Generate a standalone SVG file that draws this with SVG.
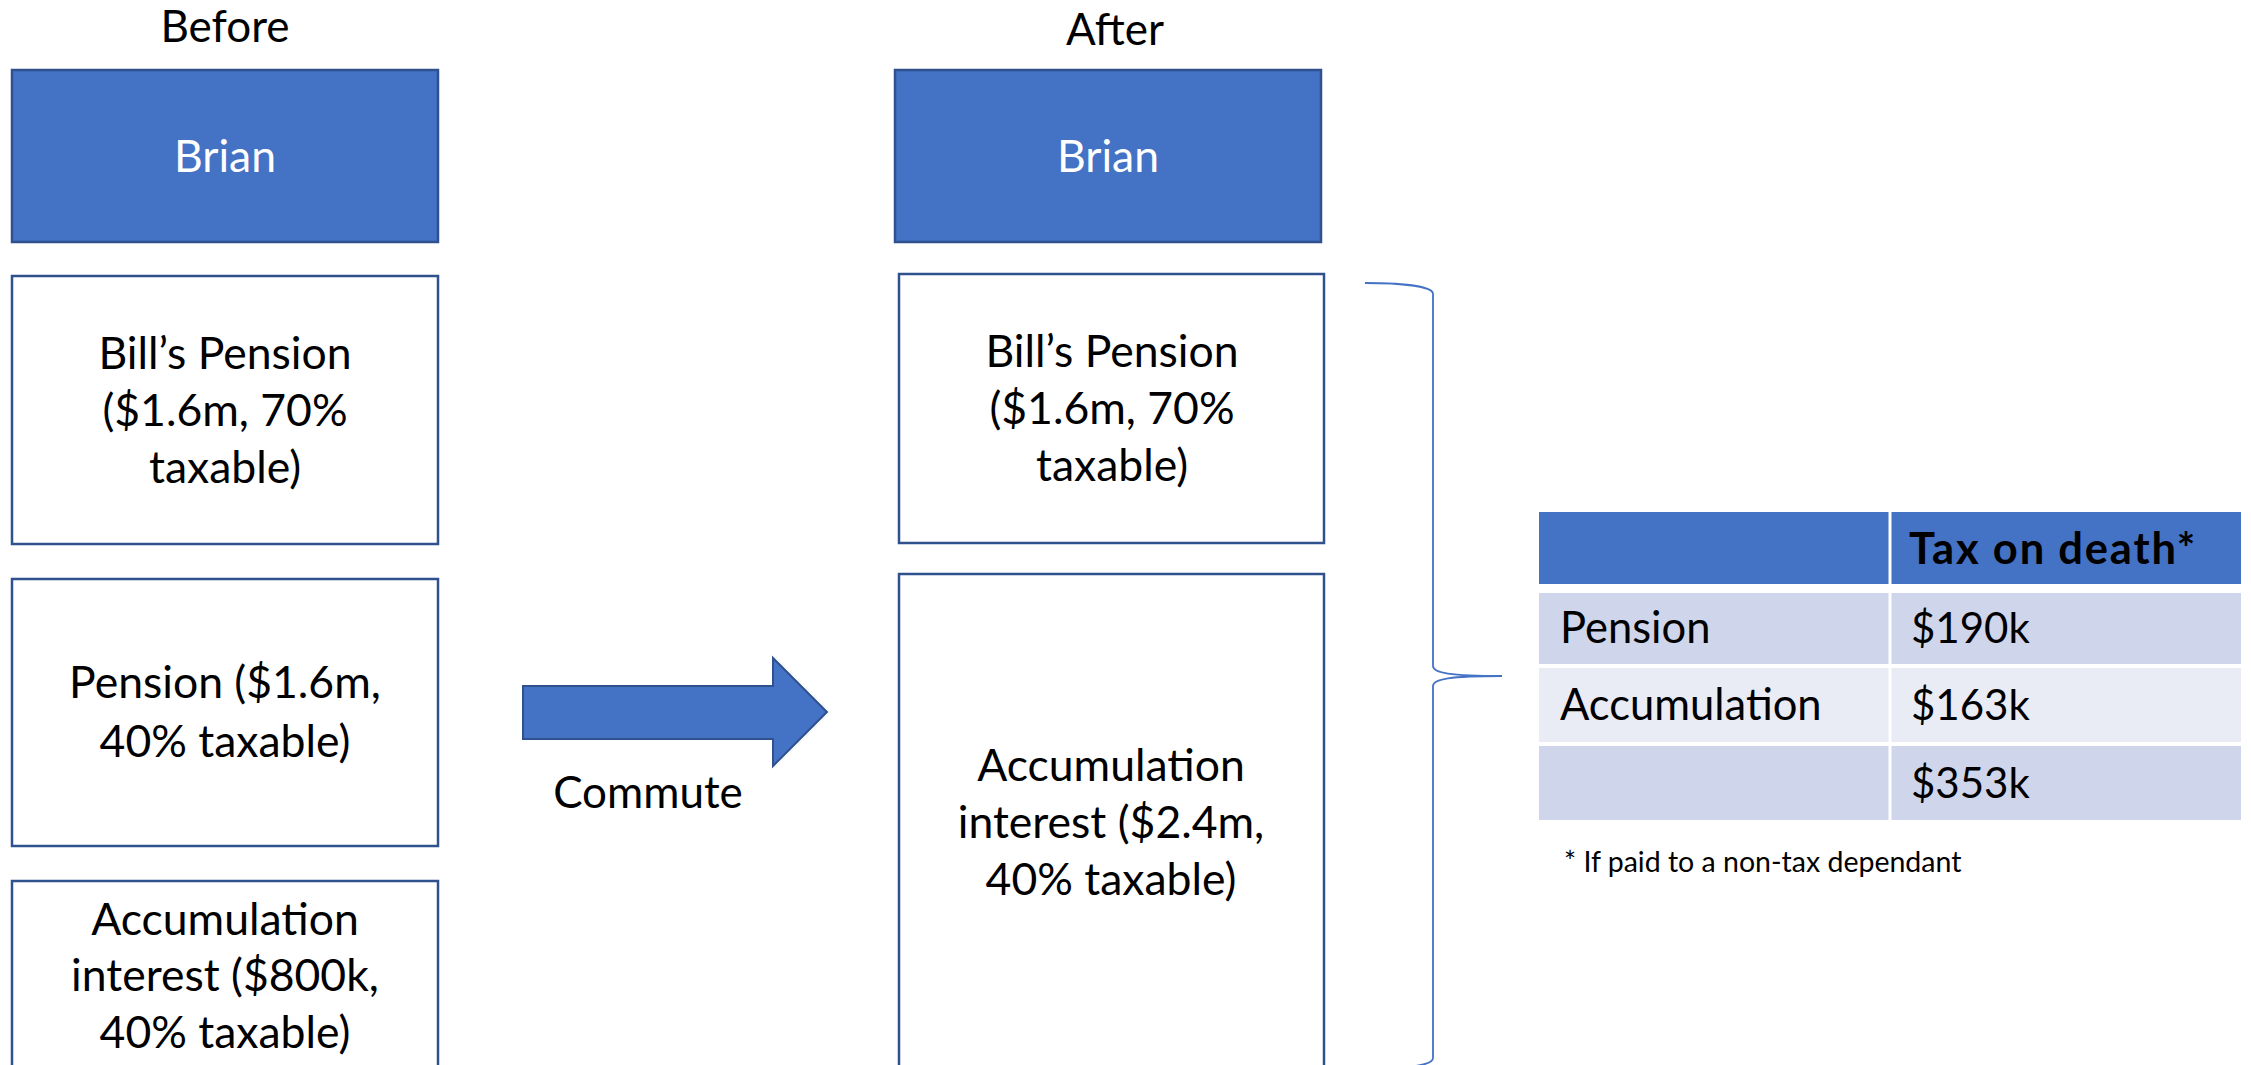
<svg xmlns="http://www.w3.org/2000/svg" width="2251" height="1065" viewBox="0 0 2251 1065">
<style>
  text { font-family: Lato, "Open Sans", "Liberation Sans", sans-serif; fill: #000; }
  .box { fill: #fff; stroke: #2F528F; stroke-width: 2.5; }
  .head { fill: #4472C4; stroke: #2F528F; stroke-width: 2.5; }
  .big { font-size: 44.5px; text-anchor: middle; }
  .title { font-size: 44px; text-anchor: middle; }
  .white { fill: #fff; }
  .tbl { font-size: 43.5px; }
  .num { font-size: 42px; }
  .th { fill: #4472C4; }
  .r1 { fill: #CFD5EA; }
  .r2 { fill: #E9EBF5; }
  .brace { fill: none; stroke: #4472C4; stroke-width: 1.8; }
  .arrow { fill: #4472C4; stroke: #2F528F; stroke-width: 2; }
</style>
<rect width="2251" height="1065" fill="#fff"/>

<g id="label-before"><text class="title" x="225" y="42">Before</text></g>
<g id="label-after"><text class="title" x="1115" y="45">After</text></g>

<g id="brian-before">
  <rect class="head" x="12" y="70" width="426" height="172"/>
  <text class="big white" x="225" y="172">Brian</text>
</g>
<g id="bills-pension-before">
  <rect class="box" x="12" y="276" width="426" height="268"/>
  <text class="big" x="225" y="369">Bill’s Pension</text>
  <text class="big" x="225" y="426">($1.6m, 70%</text>
  <text class="big" x="225" y="483">taxable)</text>
</g>
<g id="pension-before">
  <rect class="box" x="12" y="579" width="426" height="267"/>
  <text class="big" x="225" y="698">Pension ($1.6m,</text>
  <text class="big" x="225" y="757">40% taxable)</text>
</g>
<g id="accumulation-before">
  <rect class="box" x="12" y="881" width="426" height="268"/>
  <text class="big" x="225" y="935">Accumulation</text>
  <text class="big" x="225" y="991">interest ($800k,</text>
  <text class="big" x="225" y="1048">40% taxable)</text>
</g>

<g id="brian-after">
  <rect class="head" x="895" y="70" width="426" height="172"/>
  <text class="big white" x="1108" y="172">Brian</text>
</g>
<g id="bills-pension-after">
  <rect class="box" x="899" y="274" width="425" height="269"/>
  <text class="big" x="1112" y="367">Bill’s Pension</text>
  <text class="big" x="1112" y="424">($1.6m, 70%</text>
  <text class="big" x="1112" y="481">taxable)</text>
</g>
<g id="accumulation-after">
  <rect class="box" x="899" y="574" width="425" height="520"/>
  <text class="big" x="1111" y="781">Accumulation</text>
  <text class="big" x="1111" y="838">interest ($2.4m,</text>
  <text class="big" x="1111" y="895">40% taxable)</text>
</g>

<g id="connectors">
  <polygon class="arrow" points="523,686 773,686 773,658 827,712 773,766 773,739 523,739"/>
  <path class="brace" d="M1365,283 C1400,283 1433,286 1433,294 L1433,666 C1433,673 1450,676 1502,676 C1450,676 1433,679 1433,686 L1433,1058 C1433,1066 1400,1069 1365,1069"/>
</g>
<g id="label-commute"><text class="title" x="648" y="808">Commute</text></g>

<g id="tax-table">
  <rect class="th" x="1539" y="512" width="349.5" height="72"/>
  <rect class="th" x="1891.5" y="512" width="349.5" height="72"/>
  <rect class="r1" x="1539" y="593" width="349.5" height="71"/>
  <rect class="r1" x="1891.5" y="593" width="349.5" height="71"/>
  <rect class="r2" x="1539" y="668" width="349.5" height="74"/>
  <rect class="r2" x="1891.5" y="668" width="349.5" height="74"/>
  <rect class="r1" x="1539" y="746" width="349.5" height="74"/>
  <rect class="r1" x="1891.5" y="746" width="349.5" height="74"/>
  <text class="tbl" x="1909" y="564" font-weight="bold" font-size="49" letter-spacing="1.8">Tax on death*</text>
  <text class="tbl" x="1560" y="643">Pension</text>
  <text class="num" x="1911" y="643">$190k</text>
  <text class="tbl" x="1560" y="720">Accumulation</text>
  <text class="num" x="1911" y="720">$163k</text>
  <text class="num" x="1911" y="798">$353k</text>
</g>
<g id="footnote"><text x="1564" y="872" font-size="28.5">* If paid to a non-tax dependant</text></g>
</svg>
